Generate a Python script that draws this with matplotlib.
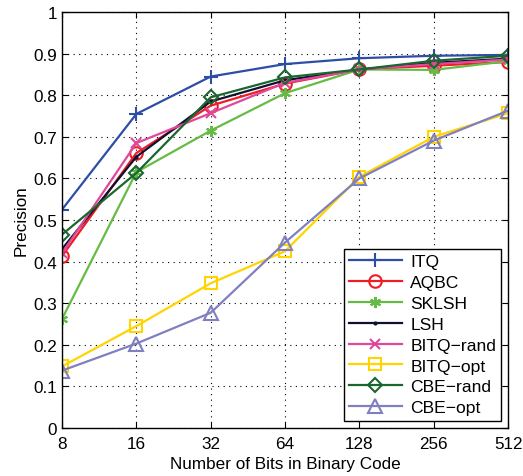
import numpy as np
import matplotlib
matplotlib.use('Agg')
import matplotlib.pyplot as plt

plt.rcParams['font.family'] = ['Liberation Sans', 'DejaVu Sans']

bits = [8, 16, 32, 64, 128, 256, 512]
names = ['ITQ', 'AQBC', 'SKLSH', 'LSH', 'BITQ\u2212rand', 'BITQ\u2212opt', 'CBE\u2212rand', 'CBE\u2212opt']

itq = [0.525, 0.755, 0.845, 0.875, 0.889, 0.895, 0.897]
aqbc = [0.413, 0.661, 0.775, 0.828, 0.862, 0.871, 0.880]
sklsh = [0.262, 0.615, 0.715, 0.805, 0.862, 0.861, 0.882]
lsh = [0.430, 0.652, 0.785, 0.836, 0.862, 0.878, 0.888]
bitq_rand = [0.420, 0.685, 0.757, 0.830, 0.862, 0.875, 0.886]
bitq_opt = [0.148, 0.245, 0.348, 0.425, 0.604, 0.700, 0.757]
cbe_rand = [0.465, 0.613, 0.795, 0.843, 0.862, 0.883, 0.895]
cbe_opt = [0.138, 0.203, 0.277, 0.446, 0.600, 0.691, 0.763]

series = [itq, aqbc, sklsh, lsh, bitq_rand, bitq_opt, cbe_rand, cbe_opt]
colors = ['#2E4DA7', '#EE1C24', '#66BB44', '#101030', '#E0489A', '#FFD400', '#1A6630', '#8080C0']
markers = ['+', 'o', (6, 2, 0), '.', 'x', 's', 'D', '^']
msizes = [10, 9, 8, 3, 7, 8, 7, 10]

fig = plt.figure(figsize=(5.23, 4.77), dpi=100)
ax = fig.add_axes([0.1185, 0.1006, 0.853, 0.872])

x = np.arange(len(bits))
for s, n, c, m, ms in zip(series, names, colors, markers, msizes):
    ax.plot(x, s, color=c, marker=m, markersize=ms, markerfacecolor='none',
            markeredgecolor=c, markeredgewidth=1.5, linewidth=1.6, label=n)

ax.set_xlim(0, 6)
ax.set_ylim(0, 1)
ax.set_xticks(x)
ax.set_xticklabels([str(b) for b in bits])
ax.set_yticks(np.arange(0, 1.01, 0.1))
ax.set_yticklabels(['0', '0.1', '0.2', '0.3', '0.4', '0.5', '0.6', '0.7', '0.8', '0.9', '1'])
ax.tick_params(direction='in', labelsize=12.3, top=True, right=True, length=4)
ax.tick_params(axis='x', pad=6)
ax.grid(True, color='black', linestyle=(0, (1, 4)), linewidth=0.8)
ax.set_xlabel('Number of Bits in Binary Code', fontsize=12.3, labelpad=3)
ax.set_ylabel('Precision', fontsize=12.3, labelpad=3)
for sp in ax.spines.values():
    sp.set_linewidth(1.0)

leg = ax.legend(loc='lower right', fontsize=12.6, fancybox=False, edgecolor='black',
                framealpha=1, handlelength=3.0, handletextpad=0.5, borderpad=0.3,
                labelspacing=0.32, borderaxespad=0, bbox_to_anchor=(0.985, 0.018))
leg.get_frame().set_linewidth(1.0)

fig.savefig('out.png', dpi=100)
